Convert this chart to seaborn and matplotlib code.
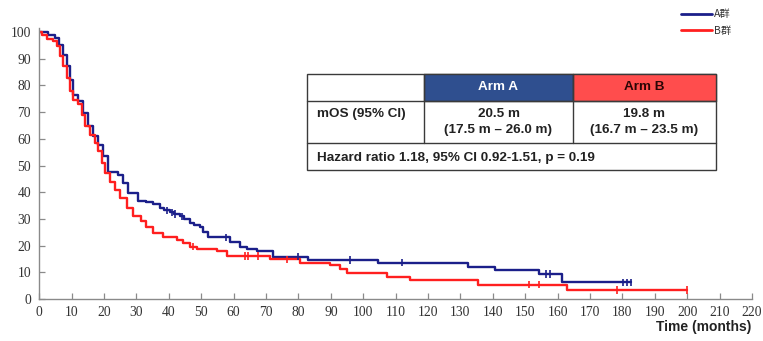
import numpy as np
import pandas as pd
import matplotlib
matplotlib.use("Agg")
import matplotlib.pyplot as plt
from matplotlib.patches import Rectangle
from matplotlib.lines import Line2D
import seaborn as sns

# ---------------- data ----------------
arms = ["A群", "B群"]

a_time = [0, 2.6, 4.8, 6.2, 7.4, 8.4, 9.5, 10.5, 12.0, 13.6, 15.1, 16.7, 18.2, 19.8,
          21.3, 24.4, 25.9, 27.5, 30.6, 33.0, 35.0, 37.3, 38.5, 40.3, 41.5, 43.4, 44.8,
          46.5, 47.8, 49.6, 50.6, 52.2, 58.9, 61.9, 64.0, 67.1, 72.2, 83.0, 104.5,
          132.3, 140.7, 154.3, 161.5, 182.8]
a_surv = [100, 99.0, 97.6, 95.3, 91.5, 87.2, 82.2, 76.5, 74.0, 69.7, 64.7, 60.9, 57.8, 53.4,
          47.7, 46.5, 43.4, 39.7, 36.8, 36.2, 35.5, 34.0, 33.2, 32.4, 31.8, 31.0, 29.8,
          28.4, 27.8, 27.1, 25.2, 23.1, 21.5, 19.6, 18.8, 17.8, 15.8, 14.6, 13.6,
          12.1, 10.9, 9.4, 6.3, 6.3]

b_time = [0, 0.8, 2.3, 4.3, 5.4, 6.4, 7.4, 8.4, 9.5, 10.5, 12.0, 13.1, 14.1, 15.6, 17.2,
          18.2, 19.3, 20.3, 21.8, 23.4, 24.9, 27.0, 29.0, 31.5, 33.0, 35.2, 38.3, 42.4,
          44.4, 46.5, 48.6, 54.8, 57.8, 71.2, 80.5, 89.7, 92.8, 94.9, 107.2, 114.4,
          135.5, 163.0, 200.0]
b_surv = [100, 98.7, 97.2, 96.6, 94.7, 90.9, 87.2, 82.8, 77.8, 74.7, 72.9, 69.0, 64.7, 61.5,
          58.4, 55.3, 50.9, 47.2, 44.0, 40.9, 37.8, 34.0, 30.9, 29.4, 26.8, 24.6, 23.4,
          22.1, 20.9, 19.6, 18.6, 17.8, 16.1, 14.8, 13.6, 12.8, 11.1, 9.6, 8.4, 7.1,
          5.4, 3.4, 3.4]

a_cens = [39.5, 41.0, 42.0, 44.0, 57.5, 80.0, 96.0, 112.0, 156.5, 157.5, 180.3, 181.3, 182.8]
b_cens = [47.5, 63.5, 64.5, 67.5, 76.4, 151.2, 154.3, 178.2, 200.0]

x_ticks = list(range(0, 221, 10))
y_ticks = list(range(0, 101, 10))

table_header = ["Arm A", "Arm B"]
row_label = "mOS (95% CI)"
mos = ["20.5 m", "19.8 m"]
mos_ci = ["(17.5 m – 26.0 m)", "(16.7 m – 23.5 m)"]
hr_text = "Hazard ratio 1.18, 95% CI 0.92-1.51, p = 0.19"
x_label = "Time (months)"

# ---------------- style ----------------
sns.set_theme(style="white")
plt.rcParams["font.family"] = ["Liberation Serif", "Noto Sans CJK SC"]

W, H = 763, 341
fig = plt.figure(figsize=(W / 100, H / 100), dpi=100)
ax = fig.add_axes([39.3 / W, (H - 299) / H, (752 - 39.3) / W, (299 - 28) / H])

blue = "#1b1f8a"
red = "#ff1f1f"
pal = {arms[0]: blue, arms[1]: red}


def step_at(times, surv, t):
    i = np.searchsorted(np.asarray(times), t, side="right") - 1
    return surv[max(i, 0)]


curves = pd.concat([
    pd.DataFrame({"time": a_time, "surv": a_surv, "arm": arms[0]}),
    pd.DataFrame({"time": b_time, "surv": b_surv, "arm": arms[1]}),
], ignore_index=True)

cens = pd.concat([
    pd.DataFrame({"time": a_cens, "surv": [step_at(a_time, a_surv, t) for t in a_cens], "arm": arms[0]}),
    pd.DataFrame({"time": b_cens, "surv": [step_at(b_time, b_surv, t) for t in b_cens], "arm": arms[1]}),
], ignore_index=True)

sns.lineplot(data=curves, x="time", y="surv", hue="arm", palette=pal, estimator=None,
             sort=False, drawstyle="steps-post", linewidth=1.7, legend=False, ax=ax)
sns.scatterplot(data=cens, x="time", y="surv", hue="arm", palette=pal, marker="|",
                s=28, linewidth=1.2, legend=False, ax=ax, zorder=3)

ax.set_xlim(0, 220)
ax.set_ylim(0, 101.5)
ax.set_xticks(x_ticks)
ax.set_yticks(y_ticks)
ax.set_xticklabels([str(v) for v in x_ticks])
ax.set_yticklabels([str(v) for v in y_ticks])
ax.set_xlabel("")
ax.set_ylabel("")
for s in ["top", "right"]:
    ax.spines[s].set_visible(False)
for s in ["left", "bottom"]:
    ax.spines[s].set_color("#8a8a8a")
    ax.spines[s].set_linewidth(1.0)
ax.tick_params(axis="both", which="major", direction="in", length=4, width=0.9,
               color="#8a8a8a", labelsize=9.8, labelcolor="#333333")
ax.tick_params(axis="x", pad=5, bottom=True)
ax.tick_params(axis="y", pad=6, left=True)

fig.text(751 / W, 1 - 327 / H, x_label, ha="right", va="center", fontsize=10,
         fontweight="bold", family="Liberation Sans", color="#222222")

# legend
handles = [Line2D([], [], color=blue, lw=2.0), Line2D([], [], color=red, lw=2.0)]
leg = ax.legend(handles, arms, loc="upper left", bbox_to_anchor=(681 / W, 1 - 9.5 / H),
                bbox_transform=fig.transFigure, frameon=False, borderpad=0, borderaxespad=0,
                handlelength=3.0, handletextpad=0.2, labelspacing=0.6,
                prop={"family": ["Noto Sans CJK SC"], "size": 7.5})
for t in leg.get_texts():
    t.set_color("#333333")

# table
L, C1, C2, R = 306.7 / W, 424 / W, 573 / W, 715.7 / W
T, Hd, M, B = 1 - 74 / H, 1 - 100.7 / H, 1 - 143 / H, 1 - 170 / H
edge = "#3a3a3a"
tf = fig.transFigure

fig.patches.append(Rectangle((L, B), R - L, T - B, transform=tf, facecolor="white",
                             edgecolor=edge, lw=1.0, zorder=4))
fig.patches.append(Rectangle((C1, Hd), C2 - C1, T - Hd, transform=tf, facecolor="#2f4f8f",
                             edgecolor=edge, lw=1.0, zorder=5))
fig.patches.append(Rectangle((C2, Hd), R - C2, T - Hd, transform=tf, facecolor="#ff4d4d",
                             edgecolor=edge, lw=1.0, zorder=5))
for (x0, y0, x1, y1) in [(L, Hd, R, Hd), (L, M, R, M), (C1, M, C1, T), (C2, M, C2, T)]:
    fig.lines.append(Line2D([x0, x1], [y0, y1], transform=tf, color=edge, lw=1.0, zorder=6))

tkw = dict(fontsize=9.7, fontweight="bold", family="Liberation Sans", zorder=7)
hy = 1 - 87.5 / H
fig.text((C1 + C2) / 2, hy, table_header[0], ha="center", va="center", color="white", **tkw)
fig.text((C2 + R) / 2, hy, table_header[1], ha="center", va="center", color="#2a0505", **tkw)
y1 = 1 - 114 / H
y2 = 1 - 130.5 / H
fig.text(317 / W, y1, row_label, ha="left", va="center", color="#222222", **tkw)
for cx, m, ci in [((C1 + C2) / 2, mos[0], mos_ci[0]), ((C2 + R) / 2, mos[1], mos_ci[1])]:
    fig.text(cx, y1, m, ha="center", va="center", color="#222222", **tkw)
    fig.text(cx, y2, ci, ha="center", va="center", color="#222222", **tkw)
fig.text(317 / W, 1 - 158 / H, hr_text, ha="left", va="center", color="#222222", **tkw)

fig.savefig("out.png", dpi=100)
